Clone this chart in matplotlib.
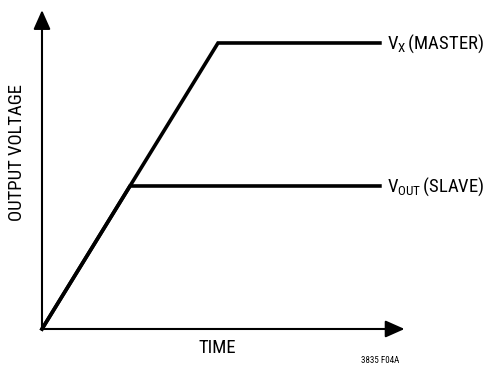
import matplotlib.pyplot as plt

plt.rcParams['font.family'] = ['Roboto Condensed', 'DejaVu Sans']
plt.rcParams['mathtext.fontset'] = 'custom'
plt.rcParams['mathtext.rm'] = 'Roboto Condensed'
plt.rcParams['mathtext.it'] = 'Roboto Condensed'

# ramp-up of master and slave supplies (normalised units)
time_master = [0.0, 1.0, 1.92]
v_master = [0.0, 1.0, 1.0]
time_slave = [0.0, 0.5, 1.92]
v_slave = [0.0, 0.5, 0.5]

labels = [r'$\mathrm{V_X}\,$(MASTER)', r'$\mathrm{V_{OUT}}\,$(SLAVE)']

fig = plt.figure(figsize=(4.86, 3.66), dpi=100)
ax = fig.add_axes([0, 0, 1, 1])
ax.set_xlim(-0.2386, 2.5227)
ax.set_ylim(-0.1294, 1.1503)
ax.axis('off')

# axes drawn as arrows
arrow = dict(arrowstyle='-|>,head_length=0.9,head_width=0.4', color='black',
             lw=1.5, shrinkA=0, shrinkB=0, mutation_scale=13)
ax.annotate('', xy=(0, 1.115), xytext=(0, 0), arrowprops=arrow)
ax.annotate('', xy=(2.06, 0), xytext=(0, 0), arrowprops=arrow)

ax.plot(time_master, v_master, color='black', lw=2.6, solid_joinstyle='miter')
ax.plot(time_slave, v_slave, color='black', lw=2.6, solid_joinstyle='miter')

for t, v, lab in [(time_master[-1], v_master[-1], labels[0]),
                  (time_slave[-1], v_slave[-1], labels[1])]:
    ax.annotate(lab, xy=(t, v), xytext=(5, -4), textcoords='offset points',
                fontsize=13.5, va='baseline', ha='left')

ax.text(0.995, -0.085, 'TIME', fontsize=13.5, ha='center', va='baseline')
ax.text(1.92, -0.118, '3835 F04A', fontsize=6.5, ha='center', va='baseline')
ax.text(-0.14, 0.617, 'OUTPUT VOLTAGE', fontsize=13.5, rotation=90,
        ha='center', va='center')

fig.savefig('out.png', dpi=100)
